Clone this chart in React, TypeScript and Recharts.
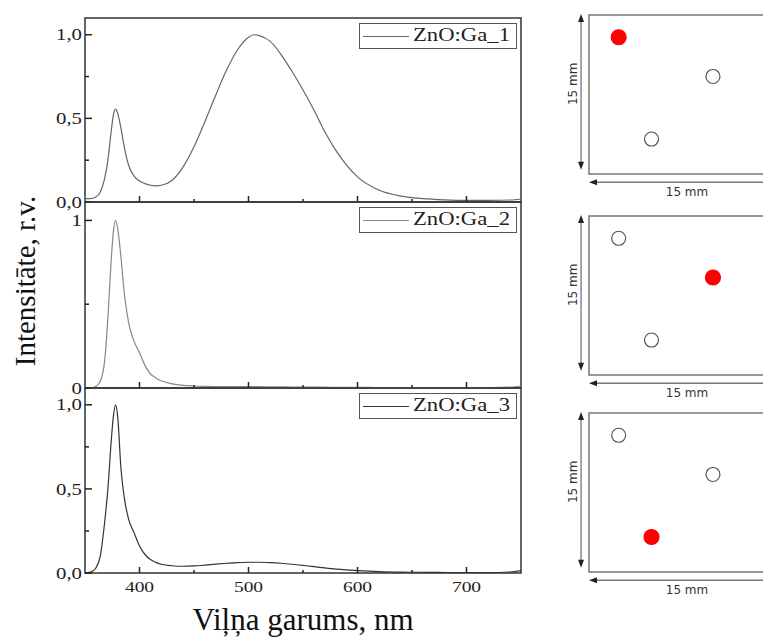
import {
  LineChart,
  Line,
  XAxis,
  YAxis,
  Legend,
  ReferenceArea,
  ReferenceLine,
  ScatterChart,
  Scatter,
} from "recharts";

// photoluminescence spectra, normalised intensity vs wavelength (nm)
const wavelengths = [
  350, 355, 360, 364, 368, 371, 374, 376, 378, 380, 383, 386, 390, 395, 400, 405,
  410, 415, 420, 430, 440, 450, 460, 470, 480, 490, 500, 505, 510, 520, 530, 540,
  550, 560, 570, 580, 590, 600, 620, 640, 660, 680, 700, 720, 740, 750,
];

const ga1 = [
  0.02, 0.02, 0.03, 0.06, 0.14, 0.25, 0.42, 0.52, 0.555, 0.53, 0.44, 0.33, 0.22, 0.155, 0.125, 0.11,
  0.1, 0.097, 0.1, 0.13, 0.21, 0.33, 0.48, 0.64, 0.79, 0.91, 0.985, 1.0, 0.995, 0.96, 0.88, 0.78,
  0.67, 0.55, 0.42, 0.31, 0.22, 0.15, 0.07, 0.035, 0.02, 0.013, 0.01, 0.01, 0.012, 0.018,
];

const ga2 = [
  0.0, 0.0, 0.01, 0.04, 0.16, 0.42, 0.76, 0.93, 1.0, 0.95, 0.78, 0.57, 0.39, 0.28, 0.21, 0.135,
  0.085, 0.06, 0.043, 0.025, 0.016, 0.012, 0.01, 0.009, 0.008, 0.008, 0.008, 0.008, 0.008, 0.007, 0.007, 0.006,
  0.006, 0.005, 0.005, 0.004, 0.004, 0.004, 0.003, 0.003, 0.003, 0.003, 0.003, 0.003, 0.005, 0.012,
];

const ga3 = [
  0.0, 0.005, 0.03, 0.1, 0.3, 0.5, 0.78, 0.93, 1.0, 0.93, 0.62, 0.45, 0.32, 0.24, 0.16, 0.11,
  0.08, 0.063, 0.052, 0.043, 0.04, 0.042, 0.047, 0.053, 0.058, 0.062, 0.064, 0.064, 0.064, 0.062, 0.058, 0.052,
  0.045, 0.038, 0.03, 0.023, 0.018, 0.014, 0.008, 0.005, 0.004, 0.003, 0.003, 0.003, 0.006, 0.014,
];

const spectra = [ga1, ga2, ga3];
const sampleNames = ["ZnO:Ga_1", "ZnO:Ga_2", "ZnO:Ga_3"];
const lineColors = ["#666", "#888", "#333"];

const xTicks = [400, 450, 500, 550, 600, 650, 700];
const yTicksFine = [0, 0.25, 0.5, 0.75, 1];
const yTicksCoarse = [0, 0.5, 1];
const yLabelsFine: Record<string, string> = { 0: "0,0", 0.5: "0,5", 1: "1,0" };
const yLabelsCoarse: Record<string, string> = { 0: "0", 1: "1" };

// measurement spots on the 15 x 15 mm sample (mm from lower-left corner)
const spotX = [2.8, 11.7, 5.9];
const spotY = [12.9, 9.2, 3.3];
const activeSpot = [0, 1, 2];

const SERIF = '"Liberation Serif", "Times New Roman", serif';
const SANS = '"DejaVu Sans", Verdana, sans-serif';

function XTick({ x, y, payload, showLabel }: any) {
  const major = payload.value % 100 === 0;
  return (
    <g>
      <line x1={x} x2={x} y1={y} y2={y - (major ? 6 : 3)} stroke="#222" strokeWidth={1.5} />
      {showLabel && major && (
        <text
          transform={`translate(${x},${y + 19}) scale(1.3,1)`}
          textAnchor="middle"
          fontFamily={SERIF}
          fontSize={15}
          fill="#222"
        >
          {payload.value}
        </text>
      )}
    </g>
  );
}

function YTick({ x, y, payload, labels }: any) {
  const label = labels[String(payload.value)];
  return (
    <g>
      <line x1={x} x2={x + (label ? 7 : 4)} y1={y} y2={y} stroke="#222" strokeWidth={1.5} />
      {label && (
        <text
          transform={`translate(${x - 3},${y}) scale(1.3,1)`}
          dy="0.35em"
          textAnchor="end"
          fontFamily={SERIF}
          fontSize={16}
          fill="#222"
        >
          {label}
        </text>
      )}
    </g>
  );
}

function XTitle({ viewBox }: any) {
  const { x, y, width } = viewBox;
  return (
    <text x={x + width / 2} y={y + 57} textAnchor="middle" fontFamily={SERIF} fontSize={31} fill="#111">
      Viļņa garums, nm
    </text>
  );
}

function YTitle({ viewBox }: any) {
  const { y, height } = viewBox;
  return (
    <text
      transform={`translate(35,${y + height / 2 - 14}) rotate(-90)`}
      textAnchor="middle"
      fontFamily={SERIF}
      fontSize={29}
      fill="#111"
    >
      Intensitāte, r.v.
    </text>
  );
}

function LegendBox({ payload }: any) {
  const item = payload?.[0];
  if (!item) return null;
  return (
    <div style={{ position: "relative", width: 156, height: 24, border: "1px solid #555", background: "#fff" }}>
      <div style={{ position: "absolute", left: 3, top: 12, width: 46, borderTop: `1px solid ${item.color}` }} />
      <span
        style={{
          position: "absolute",
          left: 53,
          top: 1,
          fontFamily: SERIF,
          fontSize: 18,
          lineHeight: "21px",
          color: "#222",
          whiteSpace: "nowrap",
          transform: "scaleX(1.26)",
          transformOrigin: "left center",
        }}
      >
        {item.value}
      </span>
    </div>
  );
}

type PanelProps = {
  index: number;
  top: number;
  height: number;
  marginTop: number;
  marginBottom: number;
  yMax: number;
  yTicks: number[];
  yLabels: Record<string, string>;
  legendTop: number;
  bottom?: boolean;
  yTitle?: boolean;
};

function SpectrumPanel({
  index,
  top,
  height,
  marginTop,
  marginBottom,
  yMax,
  yTicks,
  yLabels,
  legendTop,
  bottom,
  yTitle,
}: PanelProps) {
  const data = wavelengths.map((w, i) => ({ w, v: spectra[index][i] }));
  return (
    <div style={{ position: "absolute", left: 0, top }}>
      <LineChart
        width={540}
        height={height}
        data={data}
        margin={{ top: marginTop, right: 19, bottom: marginBottom, left: 0 }}
      >
        <XAxis
          type="number"
          dataKey="w"
          domain={[350, 750]}
          ticks={xTicks}
          interval={0}
          axisLine={false}
          tickLine={false}
          tickSize={0}
          tickMargin={0}
          height={bottom ? 66 : 1}
          tick={(p: any) => <XTick {...p} showLabel={!!bottom} />}
          label={bottom ? XTitle : undefined}
        />
        <YAxis
          type="number"
          domain={[0, yMax]}
          ticks={yTicks}
          interval={0}
          width={85}
          axisLine={false}
          tickLine={false}
          tickSize={0}
          tickMargin={0}
          tick={(p: any) => <YTick {...p} labels={yLabels} />}
          label={yTitle ? YTitle : undefined}
        />
        <ReferenceArea
          x1={350}
          x2={750}
          y1={0}
          y2={yMax}
          fill="none"
          stroke="#333"
          strokeWidth={1.5}
          ifOverflow="visible"
        />
        <Line
          type="monotone"
          dataKey="v"
          name={sampleNames[index]}
          stroke={lineColors[index]}
          strokeWidth={1.2}
          dot={false}
          isAnimationActive={false}
        />
        <Legend
          layout="vertical"
          align="center"
          verticalAlign="middle"
          content={LegendBox}
          wrapperStyle={{ top: legendTop, left: 359, width: 158, height: 26 }}
        />
      </LineChart>
    </div>
  );
}

function Spot({ cx, cy, payload }: any) {
  const on = payload.on;
  return (
    <circle
      cx={cx}
      cy={cy}
      r={on ? 7.5 : 7}
      fill={on ? "#ff0000" : "#fff"}
      stroke={on ? "#ff0000" : "#555"}
      strokeWidth={1.2}
    />
  );
}

function VArrow({ x1, y1, y2 }: any) {
  const t = Math.min(y1, y2);
  const b = Math.max(y1, y2);
  return (
    <g>
      <line x1={x1} x2={x1} y1={t + 6} y2={b - 6} stroke="#777" strokeWidth={1.3} />
      <path d={`M${x1},${t} l-3,8 h6 z`} fill="#222" />
      <path d={`M${x1},${b} l-3,-8 h6 z`} fill="#222" />
      <text
        transform={`translate(${x1 - 4},${(t + b) / 2 - 8}) rotate(-90)`}
        textAnchor="middle"
        fontFamily={SANS}
        fontSize={12}
        fill="#333"
      >
        15 mm
      </text>
    </g>
  );
}

function HArrow({ x1, x2, y1 }: any) {
  const l = Math.min(x1, x2);
  const r = Math.max(x1, x2);
  return (
    <g>
      <line x1={l + 6} x2={r} y1={y1} y2={y1} stroke="#777" strokeWidth={1.3} />
      <path d={`M${l},${y1} l8,-3 v6 z`} fill="#222" />
      <text x={(l + r) / 2} y={y1 + 14} textAnchor="middle" fontFamily={SANS} fontSize={12} fill="#333">
        15 mm
      </text>
    </g>
  );
}

function SpotMap({ top, active }: { top: number; active: number }) {
  const data = spotX.map((x, i) => ({ x, y: spotY[i], on: i === active }));
  return (
    <div style={{ position: "absolute", left: 540, top }}>
      <ScatterChart width={255} height={200} margin={{ top: 15, right: 10, bottom: 26, left: 49 }}>
        <XAxis type="number" dataKey="x" domain={[0, 18.5]} hide />
        <YAxis type="number" dataKey="y" domain={[0, 15]} hide />
        <ReferenceArea x1={0} x2={18.5} y1={0} y2={15} fill="none" stroke="#777" strokeWidth={1.5} ifOverflow="visible" />
        <ReferenceLine
          segment={[
            { x: -0.75, y: 0.4 },
            { x: -0.75, y: 15.1 },
          ]}
          ifOverflow="visible"
          shape={VArrow}
        />
        <ReferenceLine
          segment={[
            { x: 0, y: -0.78 },
            { x: 18.5, y: -0.78 },
          ]}
          ifOverflow="visible"
          shape={HArrow}
        />
        <Scatter data={data} shape={Spot} isAnimationActive={false} />
      </ScatterChart>
    </div>
  );
}

export default function App() {
  return (
    <div
      style={{
        position: "absolute",
        left: 0,
        top: 0,
        width: 763,
        height: 639,
        overflow: "hidden",
        background: "#fff",
      }}
    >
      <SpectrumPanel
        index={0}
        top={0}
        height={212}
        marginTop={18}
        marginBottom={9}
        yMax={1.1}
        yTicks={yTicksFine}
        yLabels={yLabelsFine}
        legendTop={23}
      />
      <SpectrumPanel
        index={1}
        top={192}
        height={206}
        marginTop={10}
        marginBottom={9}
        yMax={1.11}
        yTicks={yTicksCoarse}
        yLabels={yLabelsCoarse}
        legendTop={15}
        yTitle
      />
      <SpectrumPanel
        index={2}
        top={378}
        height={261}
        marginTop={10}
        marginBottom={0}
        yMax={1.1}
        yTicks={yTicksFine}
        yLabels={yLabelsFine}
        legendTop={15}
        bottom
      />
      {activeSpot.map((a, i) => (
        <SpotMap key={i} top={[0, 201, 398][i]} active={a} />
      ))}
    </div>
  );
}
